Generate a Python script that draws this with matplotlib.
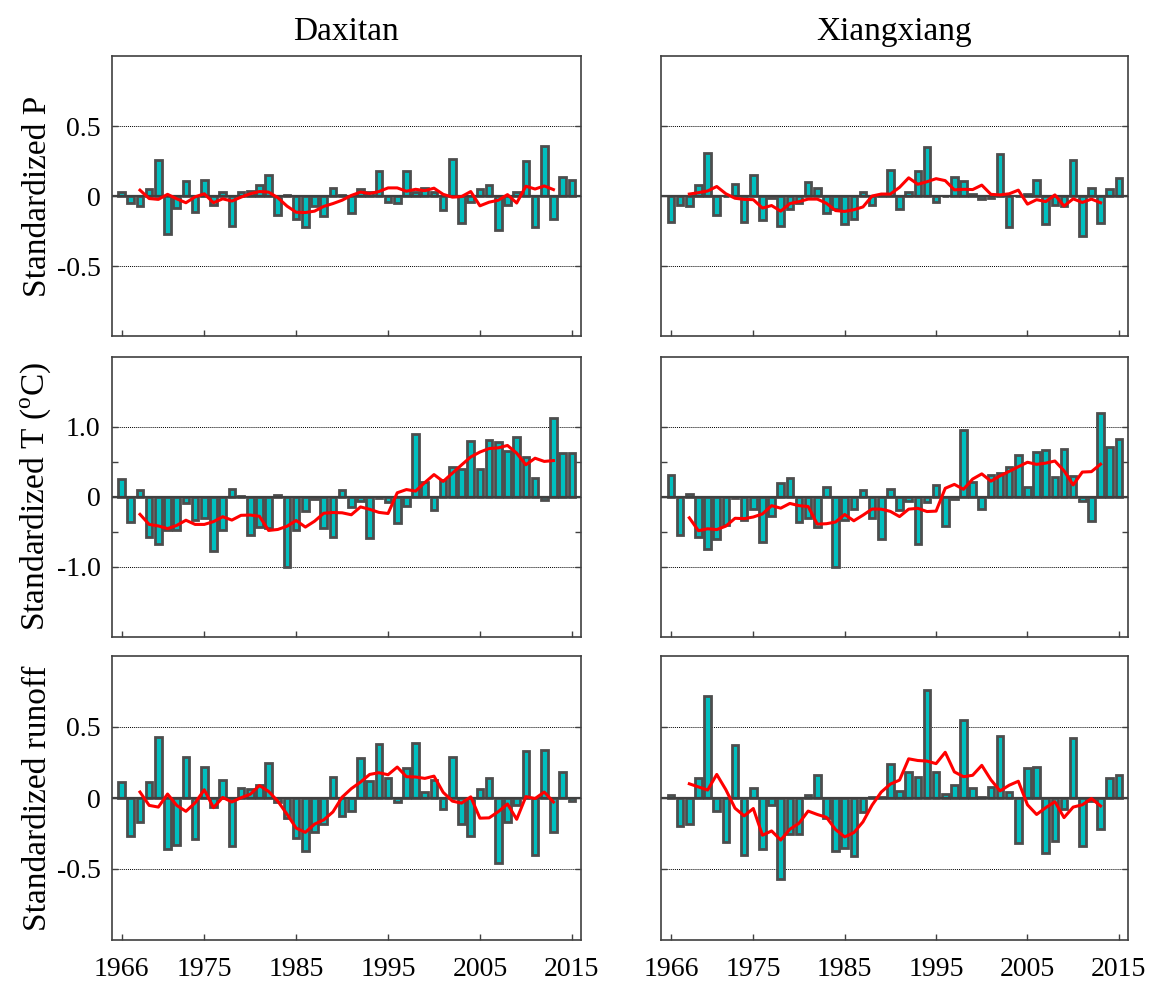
import numpy as np
import pandas as pd
import matplotlib
matplotlib.use("Agg")
import matplotlib.pyplot as plt

plt.rcParams["font.family"] = ["Liberation Serif", "DejaVu Serif"]
plt.rcParams["mathtext.fontset"] = "custom"
plt.rcParams["mathtext.rm"] = "Liberation Serif"

years = list(range(1966, 2016))
year_ticks = [1966, 1975, 1985, 1995, 2005, 2015]
stations = ["Daxitan", "Xiangxiang"]
row_labels = ["Standardized P", r"Standardized T ($^{\rm o}$C)", "Standardized runoff"]

daxitan_p = [0.03, -0.05, -0.07, 0.05, 0.26, -0.27, -0.08, 0.11, -0.11, 0.12,
             -0.06, 0.03, -0.21, 0.03, 0.04, 0.08, 0.15, -0.13, 0.01, -0.16,
             -0.22, -0.07, -0.14, 0.06, 0.01, -0.12, 0.05, 0.03, 0.18, -0.04,
             -0.05, 0.18, 0.03, 0.06, 0.03, -0.10, 0.27, -0.19, -0.04, 0.05,
             0.08, -0.24, -0.06, 0.03, 0.25, -0.22, 0.36, -0.16, 0.14, 0.12]
xiangxiang_p = [-0.18, -0.06, -0.07, 0.08, 0.31, -0.13, 0.00, 0.09, -0.18, 0.15,
                -0.17, -0.01, -0.21, -0.09, -0.05, 0.10, 0.06, -0.12, -0.09, -0.20,
                -0.16, 0.03, -0.06, 0.01, 0.19, -0.09, 0.03, 0.18, 0.35, -0.04,
                0.00, 0.14, 0.11, 0.02, -0.02, -0.01, 0.30, -0.22, 0.00, 0.02,
                0.12, -0.20, -0.06, -0.07, 0.26, -0.28, 0.06, -0.19, 0.05, 0.13]

daxitan_t = [0.25, -0.36, 0.10, -0.57, -0.68, -0.47, -0.47, -0.09, -0.34, -0.31,
             -0.77, -0.47, 0.11, 0.01, -0.55, -0.43, -0.45, 0.02, -1.00, -0.48,
             -0.20, -0.04, -0.45, -0.58, 0.09, -0.15, -0.06, -0.59, -0.02, -0.08,
             -0.37, -0.14, 0.89, 0.21, -0.19, 0.24, 0.43, 0.40, 0.80, 0.40,
             0.81, 0.78, 0.65, 0.85, 0.57, 0.26, -0.05, 1.12, 0.62, 0.63]
xiangxiang_t = [0.31, -0.54, 0.04, -0.58, -0.74, -0.61, -0.40, -0.02, -0.33, -0.18,
                -0.64, -0.28, 0.20, 0.26, -0.36, -0.30, -0.44, 0.14, -1.00, -0.33,
                -0.18, 0.10, -0.31, -0.60, 0.11, -0.19, -0.06, -0.68, -0.07, 0.17,
                -0.42, -0.03, 0.95, 0.21, -0.18, 0.31, 0.34, 0.43, 0.59, 0.14,
                0.64, 0.66, 0.28, 0.68, 0.29, -0.06, -0.35, 1.20, 0.71, 0.82]

daxitan_q = [0.11, -0.27, -0.17, 0.11, 0.43, -0.36, -0.33, 0.29, -0.29, 0.22,
             -0.06, 0.13, -0.34, 0.07, 0.06, 0.09, 0.25, -0.03, -0.14, -0.28,
             -0.37, -0.24, -0.18, 0.15, -0.13, -0.09, 0.28, 0.12, 0.38, 0.14,
             -0.03, 0.21, 0.39, 0.04, 0.13, -0.08, 0.29, -0.18, -0.27, 0.06,
             0.14, -0.46, -0.17, -0.05, 0.33, -0.40, 0.34, -0.24, 0.18, -0.02]
xiangxiang_q = [0.02, -0.20, -0.18, 0.14, 0.72, -0.09, -0.31, 0.37, -0.40, 0.07,
                -0.36, -0.05, -0.57, -0.25, -0.25, 0.02, 0.16, -0.14, -0.37, -0.35,
                -0.41, -0.10, 0.01, 0.01, 0.24, 0.05, 0.18, 0.15, 0.76, 0.18,
                0.03, 0.09, 0.55, 0.07, 0.01, 0.08, 0.44, 0.04, -0.32, 0.21,
                0.22, -0.39, -0.30, -0.08, 0.42, -0.34, -0.02, -0.22, 0.14, 0.16]

panel_data = [[daxitan_p, xiangxiang_p],
              [daxitan_t, xiangxiang_t],
              [daxitan_q, xiangxiang_q]]

# y settings per row: limit, dotted reference level, ticks, tick labels
row_lim = [1.0, 2.0, 1.0]
row_ref = [0.5, 1.0, 0.5]
row_ticks = [[-0.5, 0, 0.5], [-1.0, -0.5, 0, 0.5, 1.0], [-0.5, 0, 0.5]]
row_ticklabels = [["-0.5", "0", "0.5"], ["-1.0", "", "0", "", "1.0"], ["-0.5", "0", "0.5"]]

W, H = 1154, 981
fig = plt.figure(figsize=(W / 100, H / 100), dpi=100)

col_x = [(111.5, 581.0), (661.0, 1128.0)]
row_y = [(56.3, 336.3), (356.7, 636.7), (656.0, 940.0)]

bar_color = "#00BFBF"
edge_color = "#4D4D4D"

for r in range(3):
    for c in range(2):
        x0, x1 = col_x[c]
        y0, y1 = row_y[r]
        ax = fig.add_axes([x0 / W, 1 - y1 / H, (x1 - x0) / W, (y1 - y0) / H])
        vals = panel_data[r][c]

        ax.bar(years, vals, width=0.72, color=bar_color, edgecolor=edge_color,
               linewidth=2.0, zorder=2)
        ax.axhline(0, color="#404040", lw=1.6, zorder=3)
        for lev in (-row_ref[r], row_ref[r]):
            ax.axhline(lev, color="black", lw=0.7, ls=(0, (1, 1)), zorder=1)

        # 5-year centred moving average
        ma = pd.Series(vals, index=years).rolling(5, center=True).mean()
        ax.plot(ma.index, ma.values, color="red", lw=2.2, zorder=4)

        ax.set_xlim(1964.9, 2016.0)
        ax.set_ylim(-row_lim[r], row_lim[r])
        ax.set_yticks(row_ticks[r])
        ax.set_xticks(year_ticks)
        ax.tick_params(direction="in", length=4, width=1.0, color="#404040",
                       labelsize=20, right=True, top=False, pad=8)
        ax.tick_params(axis="x", pad=12)
        if c == 0:
            ax.set_yticklabels(row_ticklabels[r])
            ax.set_ylabel(row_labels[r], fontsize=24)
            ax.yaxis.set_label_coords(-0.125, 0.5)
        else:
            ax.set_yticklabels([])
        if r == 2:
            ax.set_xticklabels([str(y) for y in year_ticks])
        else:
            ax.set_xticklabels([])
        if r == 0:
            ax.set_title(stations[c], fontsize=24, pad=12)
        for sp in ax.spines.values():
            sp.set_color("#404040")
            sp.set_linewidth(1.2)

fig.savefig("out.png", dpi=100)
